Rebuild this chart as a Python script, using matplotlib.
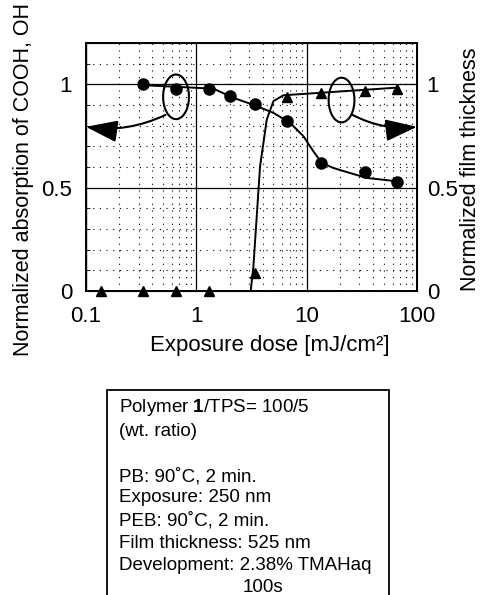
#chart of absorption and film thickness vs exposure dose
import numpy as np
import matplotlib
matplotlib.use('Agg')
import matplotlib.pyplot as plt
from matplotlib.patches import Arc, Rectangle
from matplotlib.ticker import MultipleLocator, LogLocator, NullFormatter

plt.rcParams['font.family'] = ['Liberation Sans', 'DejaVu Sans']
plt.rcParams['mathtext.fontset'] = 'custom'
plt.rcParams['mathtext.rm'] = 'Liberation Sans'
plt.rcParams['mathtext.bf'] = 'Liberation Sans:bold'

W, H = 483, 595

#data
dose_abs = [0.33, 0.66, 1.31, 2.0, 3.4, 6.7, 13.4, 33.9, 66]
absorption = [1.0, 0.976, 0.976, 0.943, 0.903, 0.822, 0.617, 0.576, 0.526]
dose_film = [0.137, 0.33, 0.66, 1.31, 3.4, 6.7, 13.4, 33.9, 66]
thickness = [0.0, 0.0, 0.0, 0.0, 0.089, 0.938, 0.956, 0.97, 0.979]

#hand drawn guide curves
fit_abs_x = [0.355, 1.43, 2.16, 3.4, 4.99, 7.07, 9.34, 11.5, 13.7, 17.5, 24.7, 35, 65.6]
fit_abs_y = [0.995, 0.979, 0.935, 0.898, 0.862, 0.814, 0.749, 0.676, 0.62, 0.595, 0.571, 0.547, 0.531]
fit_film_x = [0.1, 3.11, 3.29, 3.78, 4.35, 5.0, 6.15, 65.6]
fit_film_y = [0.0, 0.0, 0.118, 0.603, 0.83, 0.919, 0.947, 0.984]

xticks = [0.1, 1, 10, 100]
xticklabels = ['0.1', '1', '10', '100']
yticks = [0, 0.5, 1]
yticklabels = ['0', '0.5', '1']

fig = plt.figure(figsize=(W/100, H/100), dpi=100)
ax = fig.add_axes([86/W, 1-291/H, 331/W, 248/H])

ax.plot(fit_abs_x, fit_abs_y, color='black', lw=1.4)
ax.plot(fit_film_x, fit_film_y, color='black', lw=1.4)
ax.plot(dose_abs, absorption, 'o', color='black', ms=8, clip_on=False, zorder=5)
ax.plot(dose_film, thickness, '^', color='black', ms=7.5, clip_on=False, zorder=5)

ax.set_xscale('log')
ax.set_xlim(0.1, 100)
ax.set_ylim(0, 1.2)
ax.set_xticks(xticks)
ax.set_xticklabels(xticklabels)
ax.xaxis.set_minor_locator(LogLocator(base=10, subs=np.arange(2, 10)))
ax.xaxis.set_minor_formatter(NullFormatter())
ax.set_yticks(yticks)
ax.set_yticklabels(yticklabels)
ax.yaxis.set_minor_locator(MultipleLocator(0.1))

ax.grid(which='major', color='black', lw=0.9)
ax.grid(which='minor', color='black', lw=0.8, linestyle=(0, (1, 5)))
ax.tick_params(which='both', direction='in', labelsize=16, length=0)
ax.tick_params(axis='x', pad=11)
ax.tick_params(axis='y', pad=10)
ax.tick_params(axis='y', which='minor', left=True, length=3)
for s in ax.spines.values():
    s.set_linewidth(1.4)

ax2 = ax.twinx()
ax2.set_ylim(0, 1.2)
ax2.set_yticks(yticks)
ax2.set_yticklabels(yticklabels)
ax2.tick_params(labelsize=16, length=0, pad=7)

fig.text(270/W, 1-346/H, 'Exposure dose [mJ/cm²]', fontsize=16, ha='center', va='center')
fig.text(24/W, 1-180/H, 'Normalized absorption of COOH, OH', fontsize=15.5,
         rotation=90, ha='center', va='center')
fig.text(471/W, 1-169/H, 'Normalized film thickness', fontsize=15.5,
         rotation=90, ha='center', va='center')

#loops and arrows
ax.add_patch(Arc((0.272, 0.783), 0.078, 0.18, transform=ax.transAxes,
                 theta1=-150, theta2=210, color='black', lw=1.5))
ax.annotate('', xy=(0.0, 0.662), xytext=(0.24, 0.71), xycoords='axes fraction',
            arrowprops=dict(arrowstyle='-|>,head_length=1.3,head_width=0.45',
                            mutation_scale=15, shrinkA=0, shrinkB=0,
                            connectionstyle='arc3,rad=-0.15', color='black', lw=1.5))
ax.add_patch(Arc((0.772, 0.77), 0.078, 0.18, transform=ax.transAxes,
                 theta1=-30, theta2=330, color='black', lw=1.5))
ax.annotate('', xy=(1.0, 0.662), xytext=(0.805, 0.71), xycoords='axes fraction',
            arrowprops=dict(arrowstyle='-|>,head_length=1.3,head_width=0.45',
                            mutation_scale=15, shrinkA=0, shrinkB=0,
                            connectionstyle='arc3,rad=0.15', color='black', lw=1.5))

#condition box
fig.patches.append(Rectangle((107/W, -0.05), 282/W, 0.05+1-390/H,
                             transform=fig.transFigure, fill=False, lw=1.3, color='black'))
lines = [r'Polymer $\mathbf{1}$/TPS= 100/5', '(wt. ratio)',
         'PB: 90˚C, 2 min.', 'Exposure: 250 nm', 'PEB: 90˚C, 2 min.',
         'Film thickness: 525 nm', 'Development: 2.38% TMAHaq']
line_y = [408, 431, 477, 498, 521, 543, 566]
for t, yy in zip(lines, line_y):
    fig.text(119/W, 1-yy/H, t, fontsize=13.5, va='center')
fig.text(263/W, 1-588/H, '100s', fontsize=13.5, ha='center', va='center')

fig.savefig('out.png', dpi=100)
